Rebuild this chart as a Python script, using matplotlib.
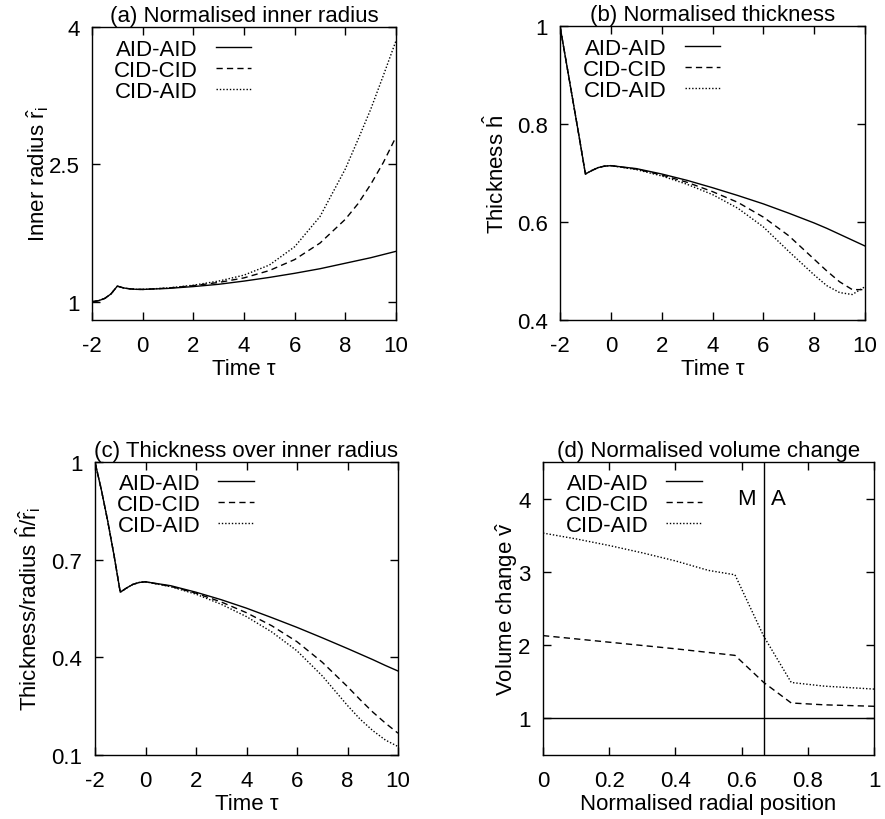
import matplotlib
matplotlib.use("Agg")
import matplotlib.pyplot as plt

plt.rcParams['font.family'] = ['Liberation Sans', 'DejaVu Sans']
plt.rcParams['font.size'] = 16
plt.rcParams['axes.unicode_minus'] = False
plt.rcParams['mathtext.fontset'] = 'custom'
plt.rcParams['mathtext.rm'] = 'Liberation Sans'
plt.rcParams['mathtext.it'] = 'Liberation Sans'

series_names = ["AID-AID", "CID-CID", "CID-AID"]

tau = [-2, -1.75, -1.5, -1.25, -1, -0.75, -0.5, -0.25, 0, 1, 2, 3, 4, 5, 6, 7, 8, 8.5, 9, 9.5, 10]

# (a) normalised inner radius
radius_pre = [1.0, 1.01, 1.035, 1.085, 1.17, 1.15, 1.14, 1.135, 1.134]
radius_aid_aid = radius_pre + [1.145, 1.165, 1.19, 1.225, 1.265, 1.31, 1.36, 1.42, 1.45, 1.48, 1.515, 1.55]
radius_cid_cid = radius_pre + [1.148, 1.175, 1.21, 1.26, 1.34, 1.46, 1.64, 1.9, 2.07, 2.28, 2.52, 2.8]
radius_cid_aid = radius_pre + [1.15, 1.18, 1.225, 1.29, 1.4, 1.6, 1.93, 2.45, 2.77, 3.1, 3.47, 3.85]

# (b) normalised thickness
thick_pre = [1.0, 0.925, 0.85, 0.775, 0.698, 0.705, 0.711, 0.714, 0.715]
thick_aid_aid = thick_pre + [0.709, 0.698, 0.685, 0.670, 0.654, 0.637, 0.618, 0.598, 0.587, 0.575, 0.563, 0.551]
thick_cid_cid = thick_pre + [0.708, 0.696, 0.681, 0.662, 0.640, 0.610, 0.572, 0.524, 0.500, 0.478, 0.462, 0.462]
thick_cid_aid = thick_pre + [0.707, 0.694, 0.677, 0.656, 0.628, 0.590, 0.540, 0.492, 0.470, 0.456, 0.452, 0.468]

# (c) thickness over inner radius
ratio_pre = [1.0, 0.915, 0.82, 0.715, 0.6, 0.613, 0.624, 0.63, 0.632]
ratio_aid_aid = ratio_pre + [0.62, 0.6, 0.577, 0.551, 0.522, 0.492, 0.46, 0.427, 0.41, 0.393, 0.375, 0.358]
ratio_cid_cid = ratio_pre + [0.618, 0.597, 0.570, 0.537, 0.497, 0.448, 0.385, 0.31, 0.27, 0.232, 0.198, 0.167]
ratio_cid_aid = ratio_pre + [0.617, 0.594, 0.563, 0.525, 0.478, 0.42, 0.343, 0.252, 0.21, 0.175, 0.146, 0.126]

# (d) normalised volume change
pos_aid_aid = [0.0, 1.0]
vol_aid_aid = [1.0, 1.0]
pos_cid_cid = [0.0, 0.2, 0.4, 0.58, 0.667, 0.75, 0.85, 1.0]
vol_cid_cid = [2.13, 2.04, 1.95, 1.86, 1.49, 1.21, 1.185, 1.165]
pos_cid_aid = [0.0, 0.1, 0.2, 0.3, 0.4, 0.5, 0.58, 0.667, 0.75, 0.85, 1.0]
vol_cid_aid = [3.53, 3.45, 3.36, 3.26, 3.15, 3.02, 2.96, 2.12, 1.49, 1.44, 1.40]
boundary_pos = 2 / 3

time_ticks = [-2, 0, 2, 4, 6, 8, 10]
time_ticklabels = ["-2", "0", "2", "4", "6", "8", "10"]
pos_ticks = [0, 0.2, 0.4, 0.6, 0.8, 1]
pos_ticklabels = ["0", "0.2", "0.4", "0.6", "0.8", "1"]

W, H = 885, 820
fig = plt.figure(figsize=(W / 100, H / 100), dpi=100)

def box(l, r, t, b):
    return [l / W, (H - b) / H, (r - l) / W, (b - t) / H]

styles = [dict(color='black', lw=1.0, linestyle='-'),
          dict(color='black', lw=1.0, linestyle=(0, (4.5, 3.0))),
          dict(color='black', lw=1.0, linestyle=(0, (1.0, 1.4)))]

def style_axes(ax):
    for s in ax.spines.values():
        s.set_linewidth(1.0)
    ax.tick_params(direction='in', top=True, right=True, length=6, width=1.0,
                   labelsize=16, pad=9)
    ax.tick_params(axis='x', pad=11)

def add_legend(ax, anchor):
    ax.legend(loc='upper left', bbox_to_anchor=anchor, markerfirst=False, frameon=False,
              handlelength=1.6, handletextpad=0.8, labelspacing=0.0,
              borderpad=0, borderaxespad=0, fontsize=16)

# (a)
ax = fig.add_axes(box(92, 396, 28, 321))
for y, st, nm in zip([radius_aid_aid, radius_cid_cid, radius_cid_aid], styles, series_names):
    ax.plot(tau, y, label=nm, **st)
ax.set_xlim(-2, 10)
ax.set_ylim(0.8, 4)
ax.set_xticks(time_ticks, time_ticklabels)
ax.set_yticks([1, 2.5, 4], ["1", "2.5", "4"])
ax.set_title("(a) Normalised inner radius", fontsize=16, pad=4)
ax.set_xlabel("Time τ", labelpad=1)
ax.set_ylabel(r"Inner radius $\hat{r}_{i}$")
ax.yaxis.label.set_va('center')
ax.yaxis.set_label_coords(-0.178, 0.5)
style_axes(ax)
add_legend(ax, (0.072, 0.96))

# (b)
ax = fig.add_axes(box(560, 865, 27, 321))
for y, st, nm in zip([thick_aid_aid, thick_cid_cid, thick_cid_aid], styles, series_names):
    ax.plot(tau, y, label=nm, **st)
ax.set_xlim(-2, 10)
ax.set_ylim(0.4, 1)
ax.set_xticks(time_ticks, time_ticklabels)
ax.set_yticks([0.4, 0.6, 0.8, 1], ["0.4", "0.6", "0.8", "1"])
ax.set_title("(b) Normalised thickness", fontsize=16, pad=4)
ax.set_xlabel("Time τ", labelpad=1)
ax.set_ylabel(r"Thickness $\hat{h}$")
ax.yaxis.label.set_va('center')
ax.yaxis.set_label_coords(-0.21, 0.5)
style_axes(ax)
add_legend(ax, (0.075, 0.96))

# (c)
ax = fig.add_axes(box(95, 398, 463, 756))
for y, st, nm in zip([ratio_aid_aid, ratio_cid_cid, ratio_cid_aid], styles, series_names):
    ax.plot(tau, y, label=nm, **st)
ax.set_xlim(-2, 10)
ax.set_ylim(0.1, 1)
ax.set_xticks(time_ticks, time_ticklabels)
ax.set_yticks([0.1, 0.4, 0.7, 1], ["0.1", "0.4", "0.7", "1"])
ax.set_title("(c) Thickness over inner radius", fontsize=16, pad=4)
ax.set_xlabel("Time τ", labelpad=1)
ax.set_ylabel(r"Thickness/radius $\hat{h}/\hat{r}_{i}$")
ax.yaxis.label.set_va('center')
ax.yaxis.set_label_coords(-0.22, 0.5)
style_axes(ax)
add_legend(ax, (0.072, 0.962))

# (d)
ax = fig.add_axes(box(543, 874, 463, 756))
for (x, y), st, nm in zip([(pos_aid_aid, vol_aid_aid), (pos_cid_cid, vol_cid_cid),
                           (pos_cid_aid, vol_cid_aid)], styles, series_names):
    ax.plot(x, y, label=nm, **st)
ax.axvline(boundary_pos, color='black', lw=1.0)
ax.annotate("M", (boundary_pos, 4), xytext=(-6, 0), textcoords='offset points',
            ha='right', va='center', fontsize=16)
ax.annotate("A", (boundary_pos, 4), xytext=(5, 0), textcoords='offset points',
            ha='left', va='center', fontsize=16)
ax.set_xlim(0, 1)
ax.set_ylim(0.5, 4.5)
ax.set_xticks(pos_ticks, pos_ticklabels)
ax.set_yticks([1, 2, 3, 4], ["1", "2", "3", "4"])
ax.set_title("(d) Normalised volume change", fontsize=16, pad=4)
ax.set_xlabel("Normalised radial position", labelpad=1)
ax.set_ylabel(r"Volume change $\hat{v}$")
ax.yaxis.label.set_va('center')
ax.yaxis.set_label_coords(-0.109, 0.5)
style_axes(ax)
add_legend(ax, (0.066, 0.962))

fig.savefig("out.png", dpi=100)
